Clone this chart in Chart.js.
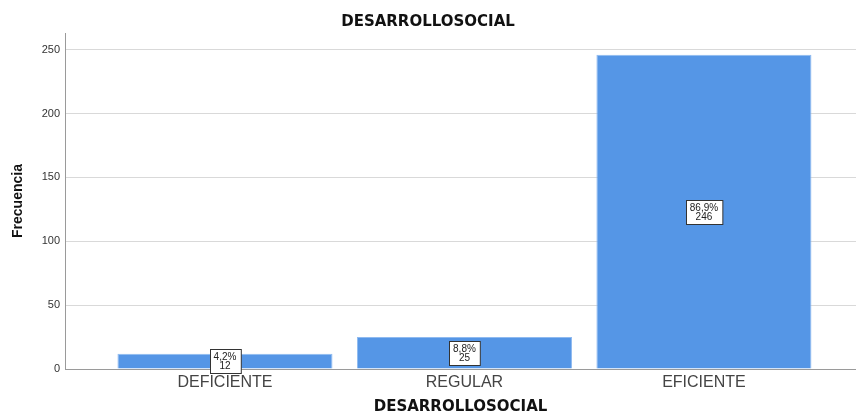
<!DOCTYPE html>
<html>
<head>
<meta charset="utf-8">
<script src="https://cdn.jsdelivr.net/npm/chart.js@4/dist/chart.umd.min.js"></script>
<style>
  html, body { margin: 0; padding: 0; background: #fff; }
  #wrap { width: 856px; height: 415px; }
</style>
</head>
<body>
<div id="wrap"><canvas id="barChart" width="856" height="415"></canvas></div>
<script>
// Data
const categories = ["DEFICIENTE", "REGULAR", "EFICIENTE"];
const frecuencia = [12, 25, 246];
const porcentajes = ["4,2%", "8,8%", "86,9%"];
const yTicks = [0, 50, 100, 150, 200, 250];

const FONT = "'Liberation Sans', Arial, sans-serif";
const BOLD_FONT = "'DejaVu Sans', 'Liberation Sans', Arial, sans-serif";

// Draws the white boxes with percent + count in the middle of each bar
const boxLabels = {
  id: "boxLabels",
  afterDatasetsDraw(chart) {
    const ctx = chart.ctx;
    const meta = chart.getDatasetMeta(0);
    ctx.save();
    ctx.font = "10px " + FONT;
    ctx.textAlign = "center";
    ctx.textBaseline = "middle";
    meta.data.forEach((bar, i) => {
      const l1 = porcentajes[i];
      const l2 = String(frecuencia[i]);
      const w = Math.max(ctx.measureText(l1).width, ctx.measureText(l2).width) + 8;
      const h = 24;
      const cx = bar.x;
      const cy = (bar.y + bar.base) / 2;
      const x0 = Math.round(cx - w / 2) + 0.5;
      const y0 = Math.round(cy - h / 2) + 0.5;
      ctx.fillStyle = "#ffffff";
      ctx.fillRect(x0, y0, w, h);
      ctx.strokeStyle = "#333333";
      ctx.lineWidth = 1;
      ctx.strokeRect(x0, y0, w, h);
      ctx.fillStyle = "#222222";
      ctx.fillText(l1, cx, y0 + 7.5);
      ctx.fillText(l2, cx, y0 + 16.5);
    });
    ctx.restore();
  },
};

const ctx = document.getElementById("barChart").getContext("2d");
new Chart(ctx, {
  type: "bar",
  data: {
    datasets: [
      {
        label: "Frecuencia",
        data: frecuencia.map((v, i) => ({ x: i, y: v })),
        backgroundColor: "#5596e6",
        borderColor: "#8fbaf0",
        borderWidth: 1,
        barPercentage: 0.898,
        categoryPercentage: 1,
      },
    ],
  },
  options: {
    responsive: false,
    animation: false,
    layout: { padding: 0 },
    plugins: {
      legend: { display: false },
      tooltip: { enabled: false },
      title: {
        display: true,
        text: "DESARROLLOSOCIAL",
        color: "#111111",
        font: { family: BOLD_FONT, size: 15, weight: "bold" },
        padding: { top: 13, bottom: 2 },
      },
    },
    scales: {
      x: {
        type: "linear",
        offset: false,
        min: -0.668,
        max: 2.635,
        grid: { display: false, drawTicks: false },
        border: { color: "#9a9a9a" },
        afterBuildTicks: (scale) => {
          scale.ticks = categories.map((c, i) => ({ value: i }));
        },
        afterFit: (scale) => {
          scale.height = 46;
        },
        ticks: {
          padding: 4,
          color: "#444444",
          font: { family: FONT, size: 16 },
          callback: (v) => categories[v],
          maxRotation: 0,
        },
        title: {
          display: true,
          text: "DESARROLLOSOCIAL",
          color: "#111111",
          font: { family: BOLD_FONT, size: 15, weight: "bold", lineHeight: 1 },
          padding: 0,
        },
      },
      y: {
        min: 0,
        max: 263,
        grid: { color: "#d9d9d9", drawTicks: false },
        border: { color: "#9a9a9a" },
        afterBuildTicks: (scale) => {
          scale.ticks = yTicks.map((v) => ({ value: v }));
        },
        afterFit: (scale) => {
          scale.width = 65;
        },
        ticks: {
          padding: 5,
          color: "#333333",
          font: { family: FONT, size: 11 },
        },
        title: {
          display: true,
          text: "Frecuencia",
          color: "#111111",
          font: { family: FONT, size: 14, weight: "bold" },
          padding: { top: 10, bottom: 0 },
        },
      },
    },
  },
  plugins: [boxLabels],
});
</script>
</body>
</html>
